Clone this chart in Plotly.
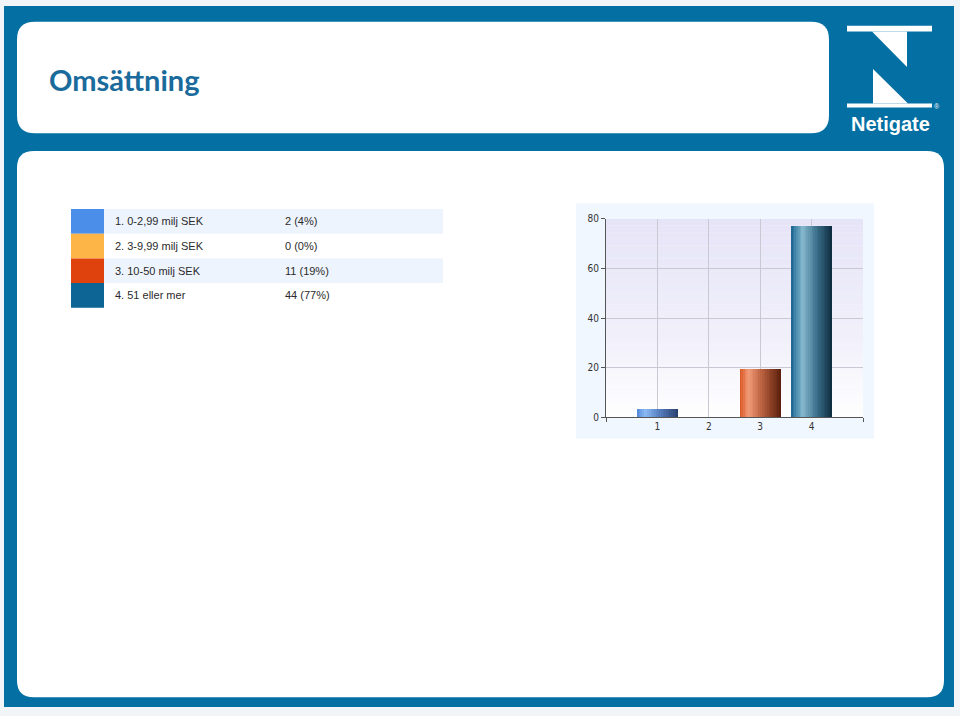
import plotly.graph_objects as go

# ---------------- data ----------------
categories = [1, 2, 3, 4]
tick_labels = ["1", "2", "3", "4"]
answer_labels = ["1. 0-2,99 milj SEK", "2. 3-9,99 milj SEK", "3. 10-50 milj SEK", "4. 51 eller mer"]
counts = [2, 0, 11, 44]
percents = [4, 0, 19, 77]
bar_values = [3.5, 0, 19.3, 77.2]
y_ticks = [0, 20, 40, 60, 80]
title_text = "Omsättning"
swatch_colors = ["#4A8EEA", "#FDB548", "#E0420E", "#0D6595"]

W, H = 960, 716
BLUE = "#036FA2"


def px(x):
    return x / W


def py(y):
    return 1 - y / H


def rrect(x0, y0, x1, y1, r):
    pts = [
        ("M", [(x0 + r, y0)]),
        ("L", [(x1 - r, y0)]),
        ("Q", [(x1, y0), (x1, y0 + r)]),
        ("L", [(x1, y1 - r)]),
        ("Q", [(x1, y1), (x1 - r, y1)]),
        ("L", [(x0 + r, y1)]),
        ("Q", [(x0, y1), (x0, y1 - r)]),
        ("L", [(x0, y0 + r)]),
        ("Q", [(x0, y0), (x0 + r, y0)]),
    ]
    s = ""
    for cmd, ps in pts:
        s += cmd + " " + " ".join(f"{px(a):.5f},{py(b):.5f}" for a, b in ps) + " "
    return s + "Z"


def poly(points):
    return "M " + " L ".join(f"{px(a):.5f},{py(b):.5f}" for a, b in points) + " Z"


def hex2rgb(h):
    h = h.lstrip("#")
    return [int(h[i:i + 2], 16) for i in (0, 2, 4)]


def interp(stops, t):
    for (p0, c0), (p1, c1) in zip(stops, stops[1:]):
        if p0 <= t <= p1:
            f = (t - p0) / (p1 - p0) if p1 > p0 else 0
            a, b = hex2rgb(c0), hex2rgb(c1)
            return "rgb(%d,%d,%d)" % tuple(round(a[i] + (b[i] - a[i]) * f) for i in range(3))
    return stops[-1][1]


shapes = []
# outer blue frame
shapes.append(dict(type="rect", xref="paper", yref="paper", x0=px(4), x1=px(954), y0=py(712), y1=py(1),
                   fillcolor=BLUE, line_width=0, layer="below"))
# white panels
shapes.append(dict(type="path", xref="paper", yref="paper", path=rrect(17, 17, 829, 130, 18),
                   fillcolor="white", line_width=0, layer="below"))
shapes.append(dict(type="path", xref="paper", yref="paper", path=rrect(17, 148, 944, 702, 17),
                   fillcolor="white", line_width=0, layer="below"))

# Netigate "N" logo
for p in [
    [(847, 21), (932, 21), (932, 27), (847, 27)],
    [(872, 27), (907, 27), (907, 63)],
    [(873, 65), (873, 100), (908, 100)],
    [(847, 100), (932, 100), (932, 104), (847, 104)],
]:
    shapes.append(dict(type="path", xref="paper", yref="paper", path=poly(p),
                       fillcolor="white", line_width=0, layer="below"))

# legend table
row_top, row_h = 207, 25
for i, c in enumerate(swatch_colors):
    y0 = row_top + i * row_h
    if i % 2 == 0:
        shapes.append(dict(type="rect", xref="paper", yref="paper", x0=px(104), x1=px(443),
                           y0=py(y0 + row_h), y1=py(y0), fillcolor="#EEF4FD", line_width=0, layer="below"))
    shapes.append(dict(type="rect", xref="paper", yref="paper", x0=px(71), x1=px(104),
                       y0=py(y0 + row_h), y1=py(y0), fillcolor=c, line_width=0, layer="below"))

# chart image background
shapes.append(dict(type="rect", xref="paper", yref="paper", x0=px(576), x1=px(874), y0=py(440), y1=py(201),
                   fillcolor="#F1F7FE", line_width=0, layer="below"))
# plot area vertical gradient (lavender top -> white bottom)
NG = 30
grad = [(0, "#E6E4F7"), (0.6, "#F1F0FA"), (1, "#FFFFFF")]
for k in range(NG):
    shapes.append(dict(type="rect", xref="x domain", yref="y domain", x0=0, x1=1,
                       y0=1 - (k + 1) / NG, y1=1 - k / NG,
                       fillcolor=interp(grad, (k + 0.5) / NG), line_width=0, layer="below"))

annotations = []
annotations.append(dict(xref="paper", yref="paper", x=px(47), y=py(76), xanchor="left", yanchor="middle",
                        text=f"<b>{title_text}</b>", showarrow=False,
                        font=dict(family="Lato, Open Sans, sans-serif", size=29, color="#1A6B9C")))
annotations.append(dict(xref="paper", yref="paper", x=px(890), y=py(121), xanchor="center", yanchor="middle",
                        text="<b>Netigate</b>", showarrow=False,
                        font=dict(family="Liberation Sans, Arial, sans-serif", size=20, color="white")))
annotations.append(dict(xref="paper", yref="paper", x=px(937), y=py(103), xanchor="center", yanchor="middle",
                        text="®", showarrow=False,
                        font=dict(family="Liberation Sans, Arial, sans-serif", size=7, color="white")))
for i, (lab, c, p) in enumerate(zip(answer_labels, counts, percents)):
    yc = row_top + i * row_h + row_h / 2
    annotations.append(dict(xref="paper", yref="paper", x=px(113), y=py(yc), xanchor="left", yanchor="middle",
                            text=lab, showarrow=False,
                            font=dict(family="Liberation Sans, Arial, sans-serif", size=11, color="#2B2B2B")))
    annotations.append(dict(xref="paper", yref="paper", x=px(283), y=py(yc), xanchor="left", yanchor="middle",
                            text=f"{c} ({p}%)", showarrow=False,
                            font=dict(family="Liberation Sans, Arial, sans-serif", size=11, color="#2B2B2B")))

# cylinder shading stops per bar
bar_stops = [
    [(0, "#4F86DA"), (0.2, "#8DBBF4"), (0.5, "#5C86C8"), (1, "#283F6E")],
    [(0, "#F0A030"), (0.25, "#F8C878"), (1, "#905010")],
    [(0, "#D9541F"), (0.22, "#F19A78"), (0.55, "#B8603E"), (1, "#5A1E0C")],
    [(0, "#17638F"), (0.28, "#86B9CF"), (0.6, "#3F7590"), (1, "#0C2A3E")],
]

fig = go.Figure()
NS = 24
BW = 0.8
for s in range(NS):
    t = (s + 0.5) / NS
    fig.add_trace(go.Bar(
        x=categories, y=bar_values,
        width=BW / NS + 0.006, offset=-BW / 2 + s * BW / NS,
        marker=dict(color=[interp(st, t) for st in bar_stops], line_width=0),
        showlegend=False, hoverinfo="skip",
    ))

tick_font = dict(family="Liberation Sans Narrow, DejaVu Sans Condensed, Arial Narrow, sans-serif",
                 size=10, color="#333333")
fig.update_layout(
    width=W, height=H, autosize=False,
    margin=dict(l=0, r=0, t=0, b=0),
    paper_bgcolor="#F2F5F8", plot_bgcolor="rgba(0,0,0,0)",
    barmode="overlay", bargap=0,
    shapes=shapes, annotations=annotations,
    xaxis=dict(domain=[px(606), px(863)], range=[0, 5], tickvals=categories, ticktext=tick_labels,
               showgrid=True, gridcolor="#C9C9D4", gridwidth=1, zeroline=False,
               showline=True, linecolor="#555555", linewidth=1, ticks="",
               minor=dict(dtick=5, tick0=0, ticks="outside", ticklen=4, tickcolor="#555555", showgrid=False),
               tickfont=tick_font, fixedrange=True),
    yaxis=dict(domain=[py(418), py(217)], range=[0, 80], tickvals=y_ticks,
               showgrid=True, gridcolor="#C9C9D4", gridwidth=1, zeroline=False,
               showline=True, linecolor="#555555", linewidth=1, ticks="outside", ticklen=4,
               tickcolor="#555555", tickfont=tick_font, fixedrange=True),
)

fig.write_html(
    "out.html",
    config={"displayModeBar": False},
    post_script="document.body.style.margin='0';document.body.style.overflow='hidden';",
)
